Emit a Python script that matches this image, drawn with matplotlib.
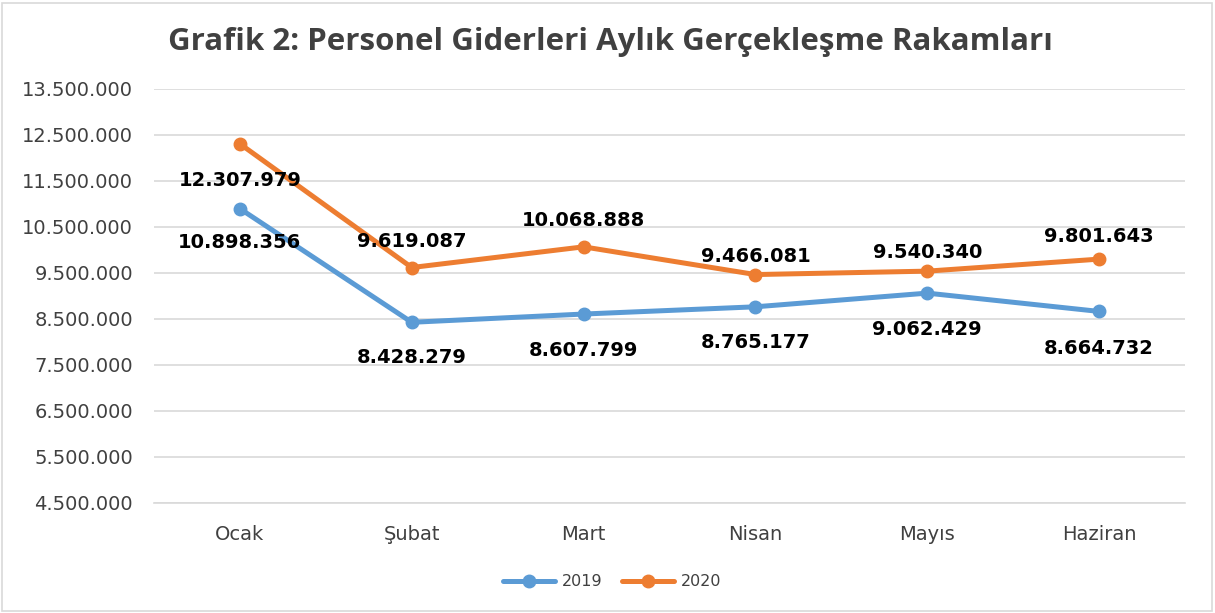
import matplotlib
matplotlib.use("Agg")
import matplotlib.pyplot as plt
from matplotlib.patches import Rectangle

months = ["Ocak", "Şubat", "Mart", "Nisan", "Mayıs", "Haziran"]
values_2019 = [10898356, 8428279, 8607799, 8765177, 9062429, 8664732]
values_2020 = [12307979, 9619087, 10068888, 9466081, 9540340, 9801643]
y_ticks = [4500000, 5500000, 6500000, 7500000, 8500000, 9500000, 10500000,
           11500000, 12500000, 13500000]

# label vertical offsets in pixels (positive = above)
off_2019 = [-34, -35, -36, -36, -36, -37]
off_2020 = [-37, 26, 26, 18, 19, 23]

def fmt(v):
    return f"{v:,}".replace(",", ".")

plt.rcParams['font.family'] = ['DejaVu Sans']

W, H = 1215, 613
fig = plt.figure(figsize=(W / 100, H / 100), dpi=100)
ax = fig.add_axes([154 / W, 1 - 503 / H, (1185 - 154) / W, (503 - 89) / H])

c19 = "#5B9BD5"
c20 = "#ED7D31"
x = list(range(len(months)))
ax.plot(x, values_2019, color=c19, lw=3.6, marker="o", ms=9, label="2019",
        solid_capstyle="round", zorder=3)
ax.plot(x, values_2020, color=c20, lw=3.6, marker="o", ms=9, label="2020",
        solid_capstyle="round", zorder=3)

for xi, v, o in zip(x, values_2019, off_2019):
    ax.annotate(fmt(v), (xi, v), xytext=(0, o * 0.72), textcoords="offset points",
                ha="center", va="center", fontsize=14, fontweight="bold", color="black")
for xi, v, o in zip(x, values_2020, off_2020):
    ax.annotate(fmt(v), (xi, v), xytext=(0, o * 0.72), textcoords="offset points",
                ha="center", va="center", fontsize=14, fontweight="bold", color="black")

ax.set_xlim(-0.5, len(months) - 0.5)
ax.set_ylim(4500000, 13500000)
ax.set_yticks(y_ticks)
ax.set_yticklabels([fmt(t) for t in y_ticks], fontsize=14, color="#404040")
ax.set_xticks(x)
ax.set_xticklabels(months, fontsize=14, color="#404040")
ax.tick_params(axis="y", length=0, pad=15)
ax.tick_params(axis="x", length=0, pad=16)
ax.grid(axis="y", color="#D9D9D9", lw=1.2)
ax.set_axisbelow(True)
for s in ["top", "right", "left"]:
    ax.spines[s].set_visible(False)
ax.spines["bottom"].set_color("#D9D9D9")
ax.spines["bottom"].set_linewidth(1.2)

fig.text(610 / W, 1 - 42 / H, "Grafik 2: Personel Giderleri Aylık Gerçekleşme Rakamları",
         ha="center", va="center", fontsize=22.5, fontweight="bold", color="#404040",
         family="Open Sans")

leg = fig.legend(loc="center", bbox_to_anchor=(612 / W, 1 - 582 / H), ncol=2,
                 frameon=False, fontsize=11.5, handlelength=3.3, columnspacing=1.2,
                 handletextpad=0.4)
for t in leg.get_texts():
    t.set_color("#404040")

fig.patches.append(Rectangle((2 / W, 2 / H), 1 - 5 / W, 1 - 5 / H, transform=fig.transFigure,
                             fill=False, edgecolor="#D9D9D9", lw=1.2))

fig.savefig("out.png", dpi=100)
